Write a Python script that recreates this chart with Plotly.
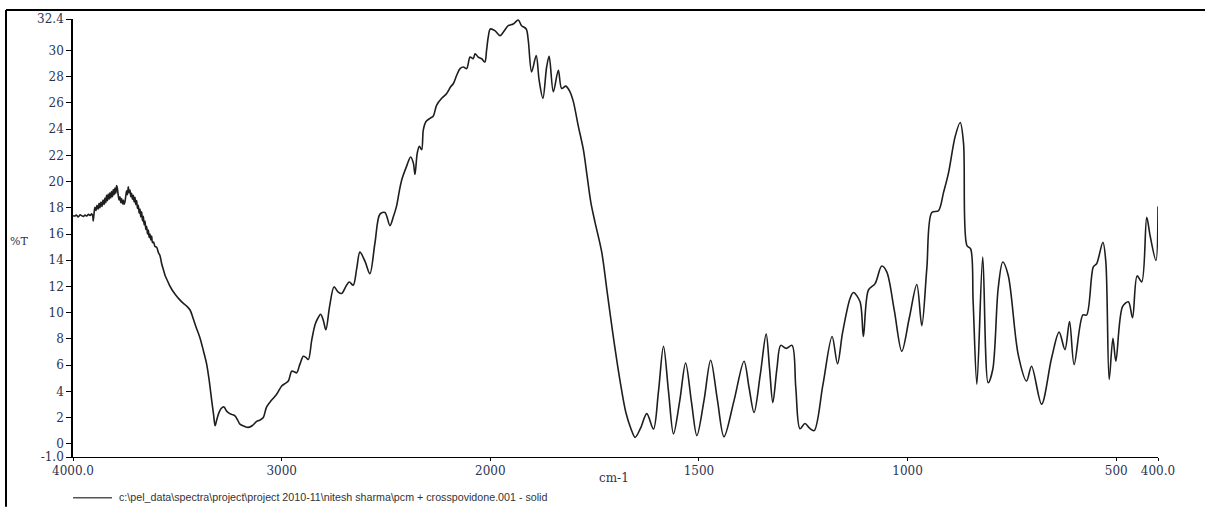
import plotly.graph_objects as go

# ---------------- data ----------------
wavenumber = [
    4000, 3992, 3984, 3975, 3966, 3958, 3950, 3942, 3934, 3926, 3918, 3910, 3905, 3903, 3899, 3895,
    3890, 3885, 3880, 3875, 3871, 3866, 3861, 3856, 3851, 3847, 3843, 3839, 3835, 3831, 3827, 3823,
    3819, 3815, 3811, 3807, 3803, 3799, 3795, 3791, 3788, 3784, 3779, 3775, 3771, 3767, 3763, 3759,
    3755, 3751, 3747, 3743, 3739, 3735, 3731, 3727, 3723, 3719, 3715, 3711, 3707, 3703, 3699, 3695,
    3691, 3687, 3683, 3679, 3675, 3671, 3667, 3663, 3659, 3655, 3651, 3647, 3643, 3639, 3635, 3631,
    3627, 3623, 3619, 3614, 3607, 3599, 3591, 3583, 3575, 3567, 3559, 3549, 3539, 3529, 3519, 3505,
    3489, 3471, 3455, 3439, 3425, 3410, 3391, 3375, 3359, 3347, 3335, 3326, 3319, 3310, 3300, 3290,
    3276, 3266, 3256, 3240, 3224, 3212, 3200, 3180, 3160, 3140, 3120, 3100, 3088, 3072, 3050, 3024,
    3000, 2984, 2968, 2952, 2940, 2928, 2912, 2896, 2884, 2872, 2856, 2840, 2826, 2813, 2800, 2788,
    2770, 2749, 2730, 2712, 2694, 2676, 2657, 2640, 2625, 2600, 2577, 2553, 2529, 2505, 2481, 2465,
    2449, 2437, 2425, 2401, 2382, 2369, 2361, 2350, 2340, 2329, 2321, 2308, 2289, 2273, 2257, 2233,
    2209, 2190, 2177, 2161, 2145, 2129, 2113, 2097, 2082, 2073, 2058, 2041, 2026, 2018, 2010, 2000,
    1989, 1977, 1969, 1957, 1945, 1933, 1925, 1914, 1909, 1901, 1890, 1883, 1874, 1865, 1859, 1849,
    1837, 1829, 1819, 1809, 1801, 1789, 1777, 1768, 1759, 1749, 1733, 1720, 1706, 1689, 1675, 1663,
    1653, 1640, 1625, 1609, 1597, 1585, 1573, 1561, 1546, 1532, 1518, 1505, 1488, 1472, 1456, 1440,
    1416, 1392, 1380, 1368, 1353, 1339, 1331, 1323, 1313, 1304, 1291, 1277, 1268, 1258, 1246, 1235,
    1224, 1203, 1181, 1168, 1156, 1138, 1130, 1114, 1106, 1094, 1078, 1062, 1050, 1032, 1014, 996,
    978, 966, 954, 942, 926, 914, 902, 886, 874, 866, 858, 849, 843, 834, 820, 807,
    796, 783, 772, 759, 735, 715, 703, 679, 655, 637, 623, 612, 601, 580, 571, 555,
    547, 532, 525, 517, 508, 501, 485, 471, 461, 450, 439, 427, 419, 405, 400,
]
transmittance = [
    17.40, 17.38, 17.45, 17.30, 17.47, 17.40, 17.35, 17.45, 17.38, 17.50, 17.42, 17.55, 17.35, 17.00, 17.60, 18.05,
    17.80, 18.20, 17.90, 18.35, 18.00, 18.45, 18.10, 18.60, 18.25, 18.75, 18.40, 18.95, 18.55, 19.05, 18.65, 19.15,
    18.75, 19.25, 18.85, 19.40, 19.00, 19.50, 19.10, 19.70, 19.55, 19.05, 18.60, 18.85, 18.40, 18.70, 18.30, 18.60,
    18.25, 18.45, 18.90, 19.30, 19.00, 19.60, 19.15, 19.35, 18.85, 19.10, 18.65, 18.95, 18.45, 18.80, 18.25, 18.55,
    17.95, 18.20, 17.60, 17.90, 17.30, 17.70, 17.00, 17.35, 16.70, 17.00, 16.35, 16.60, 16.00, 16.30, 15.75, 16.00,
    15.55, 15.85, 15.35, 15.40, 15.05, 15.00, 14.60, 14.35, 13.74, 13.30, 12.86, 12.50, 12.15, 11.85, 11.60, 11.30,
    11.00, 10.71, 10.50, 10.21, 9.60, 8.90, 8.06, 7.10, 6.05, 4.80, 3.28, 2.20, 1.38, 1.90, 2.40, 2.70,
    2.82, 2.55, 2.39, 2.25, 2.14, 1.85, 1.51, 1.35, 1.26, 1.40, 1.71, 1.85, 2.01, 2.82, 3.30, 3.78,
    4.41, 4.60, 4.79, 5.54, 5.50, 5.42, 6.10, 6.68, 6.60, 6.43, 7.90, 9.08, 9.60, 9.88, 9.40, 8.70,
    10.50, 11.97, 11.60, 11.47, 11.95, 12.35, 12.10, 13.40, 14.62, 13.90, 12.98, 15.30, 17.52, 17.65, 16.64, 17.30,
    18.15, 19.20, 20.11, 21.18, 21.88, 21.43, 20.54, 22.19, 22.69, 22.44, 23.95, 24.58, 24.83, 25.01, 25.84, 26.35,
    26.72, 27.23, 27.48, 28.11, 28.62, 28.74, 28.62, 29.50, 29.37, 29.75, 29.50, 29.37, 29.12, 30.00, 31.01, 31.64,
    31.51, 31.13, 31.39, 31.89, 32.02, 32.32, 31.89, 31.64, 30.76, 28.37, 29.62, 27.73, 26.35, 28.74, 29.55, 26.85,
    28.49, 27.10, 27.28, 26.85, 26.10, 24.21, 22.44, 20.42, 18.40, 16.89, 14.62, 11.60, 8.34, 4.79, 2.37, 1.16,
    0.50, 1.20, 2.31, 1.13, 4.00, 7.44, 4.00, 0.76, 3.30, 6.17, 3.20, 0.63, 3.30, 6.38, 3.40, 0.55,
    3.30, 6.30, 4.30, 2.39, 5.30, 8.37, 5.80, 3.15, 5.80, 7.51, 7.28, 7.51, 4.30, 1.16, 1.56, 1.20,
    1.01, 4.50, 8.19, 6.11, 8.46, 11.09, 11.54, 10.84, 8.19, 11.72, 12.22, 13.56, 13.11, 10.20, 7.06, 9.60,
    12.15, 9.02, 13.36, 17.65, 17.78, 19.16, 20.67, 23.45, 24.51, 22.94, 15.13, 14.87, 10.84, 4.54, 14.24, 4.66,
    5.67, 11.85, 13.87, 12.86, 6.81, 4.79, 5.92, 3.03, 6.55, 8.52, 7.19, 9.33, 6.05, 9.83, 9.83, 13.49,
    13.74, 15.38, 13.87, 4.92, 8.06, 6.30, 10.46, 10.84, 9.63, 12.81, 12.35, 17.27, 15.89, 13.99, 18.10,
]

x_tick_wavenumbers = [4000, 3000, 2000, 1500, 1000, 500, 400]
x_tick_labels = ["4000.0", "3000", "2000", "1500", "1000", "500", "400.0"]
y_tick_values = [-1.0, 0, 2, 4, 6, 8, 10, 12, 14, 16, 18, 20, 22, 24, 26, 28, 30, 32.4]
y_tick_labels = ["-1.0", "0", "2", "4", "6", "8", "10", "12", "14", "16", "18", "20",
                 "22", "24", "26", "28", "30", "32.4"]

file_label = r"c:\pel_data\spectra\project\project 2010-11\nitesh sharma\pcm + crosspovidone.001 - solid"


# FTIR-style axis: 4000-2000 cm-1 is compressed 2x relative to 2000-400 cm-1
def axis_pos(wn):
    return (4000 - wn) / 2.0 if wn >= 2000 else 1000 + (2000 - wn)


x_pos = [axis_pos(w) for w in wavenumber]
x_tick_pos = [axis_pos(w) for w in x_tick_wavenumbers]

W, H = 1206, 507
ML, MR, MT, MB = 73, 48, 16, 50
PW, PH = W - ML - MR, H - MT - MB


def px(xp):
    return (xp - ML) / PW


def py(yp):
    return (H - MB - yp) / PH


tick_font = dict(family="DejaVu Serif", size=12, color="#2e3350")

fig = go.Figure()
fig.add_trace(go.Scatter(
    x=x_pos, y=transmittance, mode="lines",
    line=dict(color="#1e1e1e", width=1.6, shape="spline", smoothing=0.9),
    showlegend=False, hoverinfo="skip",
))

fig.update_layout(
    width=W, height=H,
    margin=dict(l=ML, r=MR, t=MT, b=MB),
    paper_bgcolor="white", plot_bgcolor="white",
    xaxis=dict(
        range=[0, axis_pos(400)], tickvals=x_tick_pos, ticktext=x_tick_labels,
        showgrid=False, zeroline=False, showline=True, linecolor="black", linewidth=1,
        ticks="outside", ticklen=3, tickcolor="black", tickfont=tick_font,
    ),
    yaxis=dict(
        range=[-1.0, 32.4], tickvals=y_tick_values, ticktext=y_tick_labels,
        showgrid=False, zeroline=False, showline=True, linecolor="black", linewidth=1.6,
        ticks="outside", ticklen=5, tickcolor="black", tickfont=tick_font,
    ),
    shapes=[
        dict(type="line", xref="paper", yref="paper", x0=px(6), x1=px(6), y0=py(7), y1=py(507),
             line=dict(color="black", width=2)),
        dict(type="line", xref="paper", yref="paper", x0=px(6), x1=px(1205), y0=py(7), y1=py(7),
             line=dict(color="black", width=2)),
        dict(type="line", xref="paper", yref="paper", x0=px(73), x1=px(112), y0=py(498), y1=py(498),
             line=dict(color="#555555", width=1.5)),
    ],
    annotations=[
        dict(text="%T", xref="paper", yref="paper", x=px(18.5), y=py(240), showarrow=False,
             xanchor="center", yanchor="middle", font=dict(family="DejaVu Serif", size=11, color="#2e3350")),
        dict(text="cm-1", xref="paper", yref="paper", x=px(614), y=py(478), showarrow=False,
             xanchor="center", yanchor="middle", font=dict(family="DejaVu Serif", size=12, color="#2e3350")),
        dict(text=file_label, xref="paper", yref="paper", x=px(117), y=py(497), showarrow=False,
             xanchor="left", yanchor="middle", font=dict(family="Liberation Sans", size=10.7, color="#333333")),
    ],
)

fig.write_html("out.html")
